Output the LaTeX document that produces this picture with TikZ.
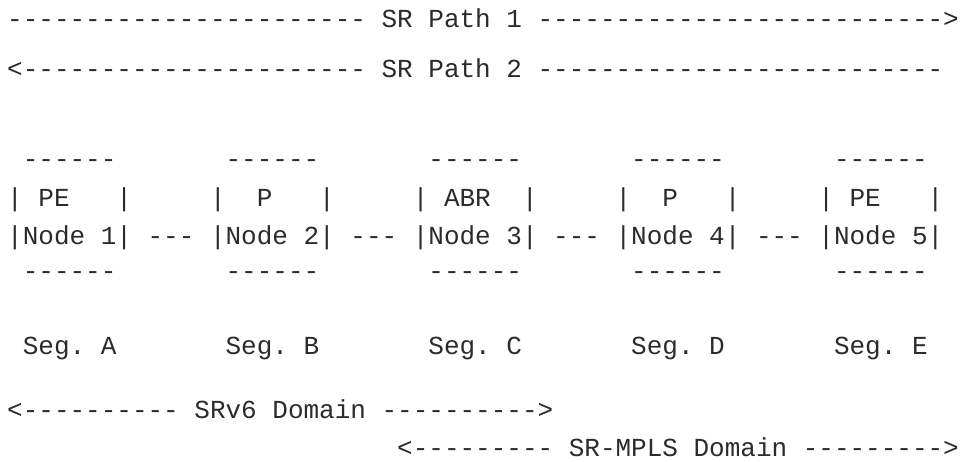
\documentclass[tikz,border=0pt]{standalone}
\usepackage{fontspec}
\setmonofont{Liberation Mono}

\definecolor{inkgray}{HTML}{2B2B2B}
\tikzset{
  ascii/.style={anchor=base west, inner sep=0pt, outer sep=0pt, text=inkgray,
    font=\ttfamily\fontsize{26}{30}\selectfont\frenchspacing},
}

\begin{document}
\begin{tikzpicture}[x=1pt,y=-1pt]

  \def \pitch {15.6} % width of one character
  \def \xo {7.2}     % left edge of the first column
  \useasboundingbox (0,0) rectangle (963,461);

  % both paths over the whole chain
  \node[ascii] (path1) at (\xo,27) {----------------------- SR Path 1 -------------------------->};
  \node[ascii] (path2) at (\xo,77) {<---------------------- SR Path 2 --------------------------};

  % the five nodes, one box every 13 columns
  \foreach \k/\role/\off/\seg in {0/PE/2/A, 1/P/3/B, 2/ABR/2/C, 3/P/3/D, 4/PE/2/E}
  {
    \pgfmathsetmacro{\xl}{\xo + \pitch*13*\k}
    \pgfmathtruncatemacro{\num}{\k + 1}
    \node[ascii] (top\k) at ({\xl + \pitch},167) {------};
    \node[ascii] (lpipe\k) at (\xl,206) {|};
    \node[ascii] (role\k) at ({\xl + \pitch*\off},206) {\role};
    \node[ascii] (rpipe\k) at ({\xl + \pitch*7},206) {|};
    \node[ascii] (box\k) at (\xl,244) {|Node \num|};
    \node[ascii] (bot\k) at ({\xl + \pitch},279) {------};
    \node[ascii] (seg\k) at ({\xl + \pitch},354) {Seg. \seg};
  }

  % links between neighbours
  \foreach \k in {0,...,3}
    \node[ascii] (link\k) at ({\xo + \pitch*(13*\k + 9)},244) {---};

  % the two domains
  \node[ascii] (srv6) at (\xo,418) {<---------- SRv6 Domain ---------->};
  \node[ascii] (mpls) at ({\xo + \pitch*25},456) {<--------- SR-MPLS Domain --------->};

\end{tikzpicture}
\end{document}
